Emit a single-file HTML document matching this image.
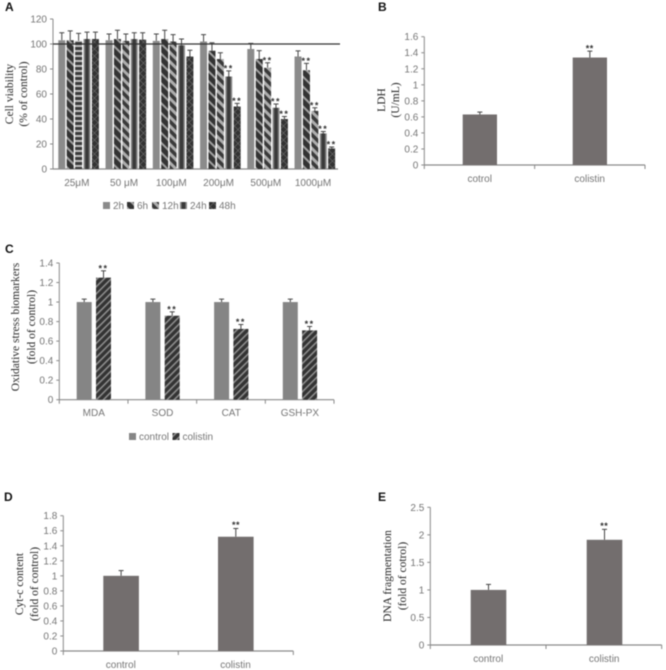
<!DOCTYPE html>
<html>
<head>
<meta charset="utf-8">
<title>Colistin figure</title>
<style>
html,body{margin:0;padding:0;background:#fff;}
svg{display:block;filter:blur(0.5px);}
.tick{font:10px "Liberation Sans",sans-serif;fill:#767676;}
.title{font:11.5px "Liberation Serif",serif;fill:#2a2a2a;}
.panel{font:bold 12px "Liberation Sans",sans-serif;fill:#111;}
.star{font:bold 9px "Liberation Sans",sans-serif;fill:#333;letter-spacing:0.5px;}
.star-wide{letter-spacing:1.5px;}
</style>
</head>
<body>
<svg id="fig" xmlns="http://www.w3.org/2000/svg" width="666" height="670" viewBox="0 0 666 670">
<defs>
<pattern id="p-6h" patternUnits="userSpaceOnUse" width="7" height="7" patternTransform="rotate(45)"><rect width="7" height="7" fill="#333"/><rect width="7" height="2" fill="#a0a0a0"/></pattern>
<pattern id="p-12h" patternUnits="userSpaceOnUse" width="6.5" height="6.5" patternTransform="rotate(45)"><rect width="6.5" height="6.5" fill="#3a3a3a"/><rect width="6.5" height="3" fill="#aeaeae"/></pattern>
<pattern id="p-12h-flat" patternUnits="userSpaceOnUse" width="7" height="5"><rect width="7" height="5" fill="#3a3a3a"/><rect width="7" height="2" fill="#bdbdbd"/></pattern>
<pattern id="p-24h" patternUnits="objectBoundingBox" width="1" height="1"><rect width="7" height="200" fill="#8a8a8a"/><rect x="1.6" width="3.8" height="200" fill="#3a3a3a"/></pattern>
<pattern id="p-48h" patternUnits="userSpaceOnUse" width="7" height="7"><rect width="7" height="7" fill="#333"/><path d="M0 3.5L3.5 0L7 3.5L3.5 7Z" fill="none" stroke="#666" stroke-width="0.7"/></pattern>
<pattern id="p-col" patternUnits="userSpaceOnUse" width="5" height="5" patternTransform="rotate(-45)"><rect width="5" height="5" fill="#333"/><rect width="5" height="1.6" fill="#8d8d8d"/></pattern>
</defs>
</svg>
<script>
// Panel A data
const aCategories = ['25μM', '50 μM', '100μM', '200μM', '500μM', '1000μM'];
const aSeries = ['2h', '6h', '12h', '24h', '48h'];
const aTicks = [0, 20, 40, 60, 80, 100, 120];
const aValues = [
  [103, 103, 102.5, 104, 104],
  [103, 104, 102.5, 104, 103.5],
  [102.5, 104, 102, 99, 90],
  [102, 94.6, 88, 74, 50],
  [96, 88, 81, 49, 40],
  [90, 79, 46.5, 28.5, 16.5]
];
const aErrorTops = [
  [109, 110.5, 108.5, 109.5, 109.5],
  [108, 111, 108, 109, 109],
  [108, 111, 107.5, 104, 95],
  [107.5, 101, 93, 78.5, 52.5],
  [100.5, 94.7, 85, 52, 42],
  [94.5, 84.5, 49, 30, 17.6]
];
const aStars = [
  [0, 0, 0, 0, 0],
  [0, 0, 0, 0, 0],
  [0, 0, 0, 0, 0],
  [0, 0, 0, 1, 1],
  [0, 0, 1, 1, 1],
  [0, 1, 1, 1, 1]
];
const aReference = 100;

// Panel B data
const bCategories = ['cotrol', 'colistin'];
const bTicks = [0, 0.2, 0.4, 0.6, 0.8, 1, 1.2, 1.4, 1.6];
const bValues = [0.63, 1.34];
const bErrorTops = [0.66, 1.42];
const bStars = [0, 1];

// Panel C data
const cCategories = ['MDA', 'SOD', 'CAT', 'GSH-PX'];
const cSeries = ['control', 'colistin'];
const cTicks = [0, 0.2, 0.4, 0.6, 0.8, 1, 1.2, 1.4];
const cControl = [1, 1, 1, 1];
const cColistin = [1.25, 0.86, 0.725, 0.71];
const cControlErrorTops = [1.03, 1.03, 1.03, 1.03];
const cColistinErrorTops = [1.32, 0.9, 0.77, 0.75];

// Panel D data
const dCategories = ['control', 'colistin'];
const dTicks = [0, 0.2, 0.4, 0.6, 0.8, 1, 1.2, 1.4, 1.6, 1.8];
const dValues = [1, 1.52];
const dErrorTops = [1.07, 1.63];
const dStars = [0, 1];

// Panel E data
const eCategories = ['control', 'colistin'];
const eTicks = [0, 0.5, 1, 1.5, 2, 2.5];
const eValues = [1, 1.91];
const eErrorTops = [1.1, 2.1];
const eStars = [0, 1];

const svg = document.getElementById('fig');
const NS = 'http://www.w3.org/2000/svg';

function mk(tag, attrs, text) {
  const el = document.createElementNS(NS, tag);
  for (const k in attrs) el.setAttribute(k, attrs[k]);
  if (text !== undefined) el.textContent = text;
  svg.appendChild(el);
  return el;
}
function line(x1, y1, x2, y2, color, w) {
  return mk('line', {x1: x1, y1: y1, x2: x2, y2: y2, stroke: color, 'stroke-width': w});
}
function yScale(top, bottom, max) {
  return function (v) { return bottom - (v / max) * (bottom - top); };
}

function drawAxes(prefix, x0, x1, y, ticks, catCount, hasCatTicks) {
  const yl = line(x0, y(ticks[ticks.length - 1]), x0, y(0) + (hasCatTicks ? 4 : 0), '#8a8a8a', 1);
  
  
  const xl = line(x0, y(0), x1, y(0), '#8a8a8a', 1.2);
  
  
  ticks.forEach(function (t) {
    const tm = line(x0 - 3, y(t), x0, y(t), '#8a8a8a', 1);
    
    
    const lb = mk('text', {x: x0 - 6, y: y(t) + 3.5, 'text-anchor': 'end', 'class': 'tick'}, String(t));
    
    
  });
  if (hasCatTicks) {
    for (let i = 1; i <= catCount; i++) {
      const xx = x0 + (x1 - x0) * i / catCount;
      const cm = line(xx, y(0), xx, y(0) + 4, '#8a8a8a', 1);
      
      
    }
  }
}
function drawBar(prefix, x, w, value, errTop, y, fill) {
  const cx = x + w / 2;
  const stem = line(cx, y(errTop), cx, y(value), '#444', 1);
  
  
  const cap = line(cx - 2.5, y(errTop), cx + 2.5, y(errTop), '#444', 1);
  
  
  const b = mk('rect', {x: x, y: y(value), width: w, height: y(0) - y(value), fill: fill});
  
  
}
function drawStars(prefix, cx, yy, wide) {
  const s = mk('text', {x: cx, y: yy, 'text-anchor': 'middle', 'class': wide ? 'star star-wide' : 'star'}, '**');
  
  
}
function drawTitle(prefix, lines, xs, cy) {
  lines.forEach(function (t, i) {
    const el = mk('text', {x: xs[i], y: cy, 'text-anchor': 'middle', 'class': 'title',
      transform: 'rotate(-90 ' + xs[i] + ' ' + cy + ')'}, t);
    
    
  });
}
function drawPanelLetter(letter, x, y) {
  const el = mk('text', {x: x, y: y, 'class': 'panel'}, letter);
  
  
}
function drawCatLabel(prefix, label, cx, yy) {
  const el = mk('text', {x: cx, y: yy, 'text-anchor': 'middle', 'class': 'tick'}, label);
  
  
}
function drawLegendEntry(prefix, x, y, fill, label) {
  const sw = mk('rect', {x: x, y: y - 7, width: 7, height: 7, fill: fill});
  
  
  const tx = mk('text', {x: x + 10, y: y, 'class': 'tick'}, label);
  
  
}

// Panel A
(function () {
  const y = yScale(19, 169, 120);
  const fills = ['#8b8b8b', 'url(#p-6h)', 'url(#p-12h)', 'url(#p-24h)', 'url(#p-48h)'];
  const groupStep = 47.25, barStep = 8.4, barW = 7, start = 58.3;
  drawPanelLetter('A', 5, 11);
  drawAxes('a', 53, 338, y, aTicks, aCategories.length, false);
  aCategories.forEach(function (cat, g) {
    const gx = start + g * groupStep;
    aSeries.forEach(function (s, i) {
      const x = gx + i * barStep;
      const fill = (g === 0 && i === 2) ? 'url(#p-12h-flat)' : fills[i];
      drawBar('a-' + s, x, barW, aValues[g][i], aErrorTops[g][i], y, fill);
    });
    drawCatLabel('a', cat, gx + 18.5, 186);
  });
  const ref = line(53, y(aReference), 340, y(aReference), '#333', 1.2);
  
  
  aCategories.forEach(function (cat, g) {
    const gx = start + g * groupStep;
    aSeries.forEach(function (s, i) {
      const x = gx + i * barStep;
      if (aStars[g][i]) drawStars('a-' + s, x + barW / 2, y(aErrorTops[g][i]) + 0.5, true);
    });
  });
  drawTitle('a', ['Cell viability', '(% of control)'], [13, 27], 94);
  const legendX = [103, 127, 152, 180, 209];
  aSeries.forEach(function (s, i) {
    drawLegendEntry('a-' + s, legendX[i], 209, fills[i], s);
  });
})();

// Panel B
(function () {
  const y = yScale(36.7, 165, 1.6);
  const barX = [462.7, 572.7];
  drawPanelLetter('B', 378, 11);
  drawAxes('b', 424.3, 645, y, bTicks, bCategories.length, true);
  bCategories.forEach(function (cat, i) {
    drawBar('b-' + cat, barX[i], 34.3, bValues[i], bErrorTops[i], y, '#736e6e');
    if (bStars[i]) drawStars('b-' + cat, barX[i] + 17, y(bErrorTops[i]) + 0.5);
    drawCatLabel('b', cat, barX[i] + 17, 182);
  });
  drawTitle('b', ['LDH', '(U/mL)'], [385, 399], 100);
})();

// Panel C
(function () {
  const y = yScale(263, 399.7, 1.4);
  const step = 68.7, x0 = 59.3;
  drawPanelLetter('C', 5, 253);
  drawAxes('c', x0, 334, y, cTicks, cCategories.length, true);
  cCategories.forEach(function (cat, i) {
    const gx = x0 + i * step;
    drawBar('c-control', gx + 17.4, 15, cControl[i], cControlErrorTops[i], y, '#858585');
    drawBar('c-colistin', gx + 36.7, 15, cColistin[i], cColistinErrorTops[i], y, 'url(#p-col)');
    drawStars('c-colistin', gx + 44.2, y(cColistinErrorTops[i]) + 0.5, true);
    drawCatLabel('c', cat, gx + 34.5, 416);
  });
  drawTitle('c', ['Oxidative stress biomarkers', '(fold of control)'], [19, 35], 327);
  drawLegendEntry('c-control', 129, 440, '#858585', cSeries[0]);
  drawLegendEntry('c-colistin', 172.5, 440, 'url(#p-col)', cSeries[1]);
})();

// Panel D
(function () {
  const y = yScale(515.7, 651, 1.8);
  const barX = [103.3, 218];
  drawPanelLetter('D', 4, 501);
  drawAxes('d', 63.3, 293.3, y, dTicks, dCategories.length, true);
  dCategories.forEach(function (cat, i) {
    drawBar('d-' + cat, barX[i], 35.6, dValues[i], dErrorTops[i], y, '#736e6e');
    if (dStars[i]) drawStars('d-' + cat, barX[i] + 18, y(dErrorTops[i]) - 0.5);
    drawCatLabel('d', cat, barX[i] + 17.5, 668);
  });
  drawTitle('d', ['Cyt-c content', '(fold of control)'], [23, 38], 584);
})();

// Panel E
(function () {
  const y = yScale(507.3, 645, 2.5);
  const barX = [470.7, 586.7];
  drawPanelLetter('E', 378, 501);
  drawAxes('e', 430.3, 661.7, y, eTicks, eCategories.length, true);
  eCategories.forEach(function (cat, i) {
    drawBar('e-' + cat, barX[i], 35.6, eValues[i], eErrorTops[i], y, '#736e6e');
    if (eStars[i]) drawStars('e-' + cat, barX[i] + 17.5, y(eErrorTops[i]) - 0.5);
    drawCatLabel('e', cat, barX[i] + 17.5, 662);
  });
  drawTitle('e', ['DNA fragmentation', '(fold of cotrol)'], [391, 406], 576);
})();
</script>
</body>
</html>
